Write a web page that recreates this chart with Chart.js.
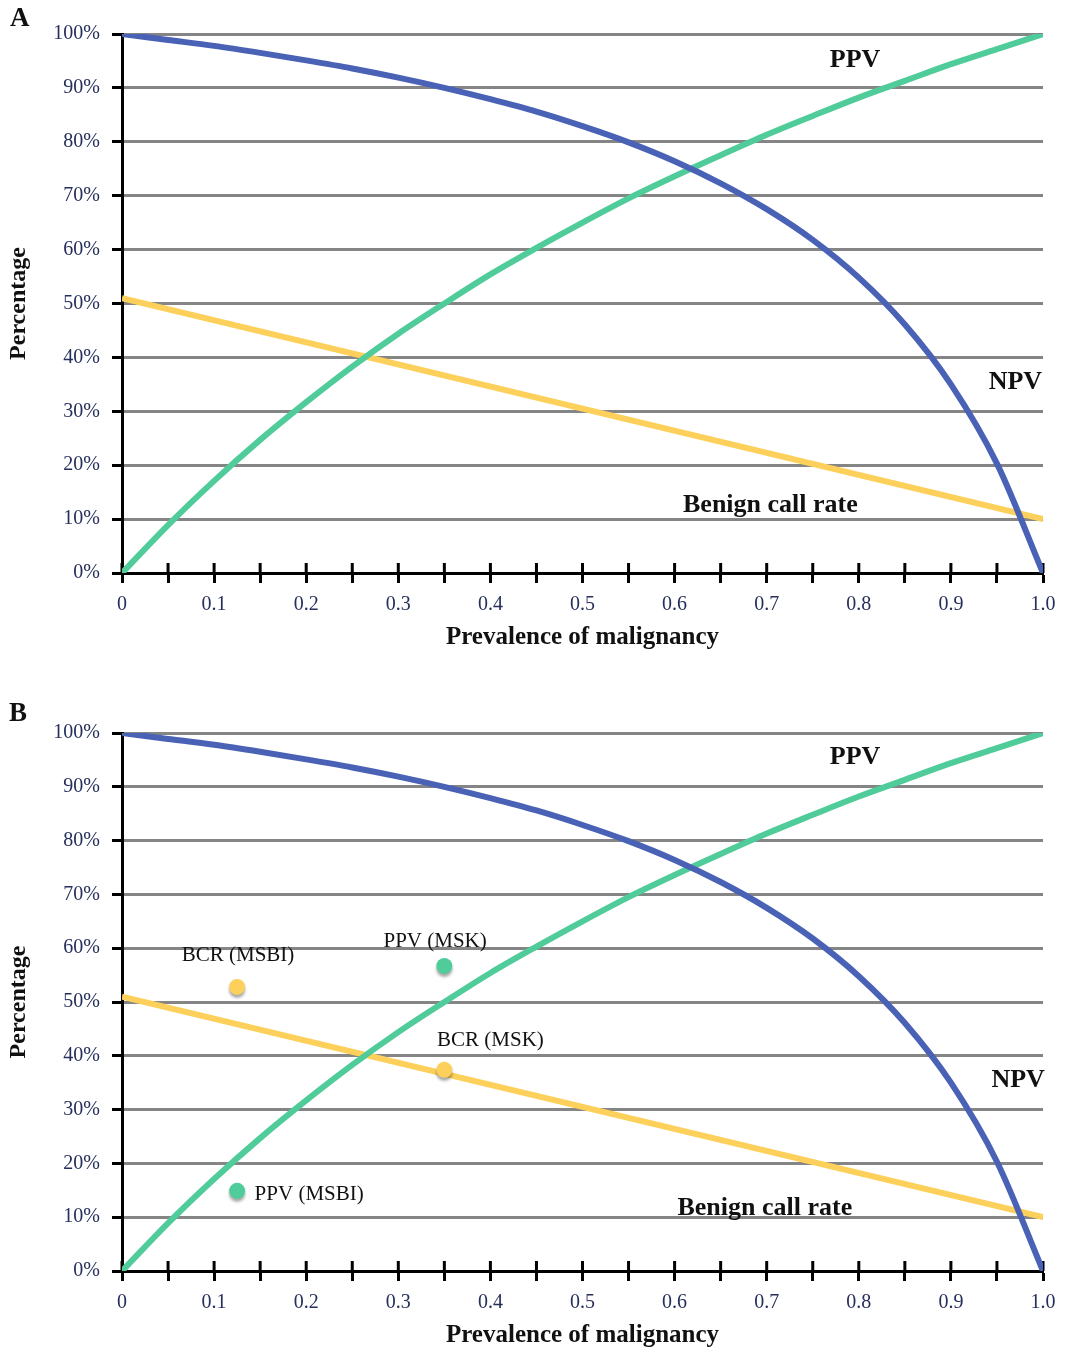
<!DOCTYPE html>
<html>
<head>
<meta charset="utf-8">
<script src="https://cdn.jsdelivr.net/npm/chart.js@4.4.1/dist/chart.umd.min.js"></script>
<style>
    body { margin: 0; background: #fff; overflow: hidden; }
    .panel { position: absolute; left: 0; width: 1069px; height: 655px; }
    .letter { position: absolute; font-family: "Liberation Serif", serif; font-weight: bold; font-size: 27px; line-height: 27px; color: #111; }
</style>
</head>
<body>
<div class="panel" style="top:0">
    <canvas id="chart-a" width="1069" height="655"></canvas>
    <div class="letter" style="left:10px;top:4px">A</div>
</div>
<div class="panel" style="top:698px">
    <canvas id="chart-b" width="1069" height="655"></canvas>
    <div class="letter" style="left:9px;top:1px">B</div>
</div>
<script>
// prevalence of malignancy (x) and the curves (%)
const prevalence = [0, 0.05, 0.1, 0.15, 0.2, 0.25, 0.3, 0.35, 0.4, 0.45, 0.5,
    0.55, 0.6, 0.65, 0.7, 0.75, 0.8, 0.85, 0.9, 0.95, 1.0];
const npvValues = [100, 98.9, 97.8, 96.5, 95.1, 93.6, 91.9, 90, 87.9, 85.6, 82.9,
    79.9, 76.4, 72.3, 67.5, 61.8, 54.8, 46.1, 35, 20.3, 0];
const ppvValues = [0, 8.9, 17.1, 24.7, 31.7, 38.3, 44.4, 50, 55.4, 60.3, 65,
    69.5, 73.6, 77.5, 81.3, 84.8, 88.2, 91.3, 94.4, 97.2, 100];
const bcrPrevalence = [0, 1.0];
const bcrValues = [51, 10];

// observed sites (panel B)
const bcrSiteX = [0.125, 0.35];
const bcrSiteY = [52.8, 37.4];
const ppvSiteX = [0.125, 0.35];
const ppvSiteY = [14.9, 56.7];

const yTicks = [0, 10, 20, 30, 40, 50, 60, 70, 80, 90, 100];

const blue = "#4a62b6";
const green = "#50cb9a";
const yellow = "#fcd05a";
const serif = "'Liberation Serif', 'Times New Roman', serif";
const tickTextColor = "#262f5c";

const toPoints = (xs, ys) => xs.map((x, i) => ({ x: x, y: ys[i] }));

// upper half of the x tick marks (chart.js only draws them below the axis)
const tickMarks = {
    id: "tickMarks",
    beforeDatasetsDraw(chart) {
        const { ctx, chartArea } = chart;
        const x = chart.scales.x;
        ctx.save();
        ctx.strokeStyle = "#000";
        ctx.lineWidth = 3;
        x.ticks.forEach((t) => {
            const px = x.getPixelForValue(t.value);
            ctx.beginPath();
            ctx.moveTo(px, chartArea.bottom - 10);
            ctx.lineTo(px, chartArea.bottom);
            ctx.stroke();
        });
        ctx.restore();
    }
};

// soft drop shadow under the site markers
const markerShadow = {
    id: "markerShadow",
    beforeDatasetDraw(chart, args) {
        if (!args.meta._dataset.shadow) return;
        const ctx = chart.ctx;
        ctx.save();
        ctx.shadowColor = "rgba(0,0,0,0.35)";
        ctx.shadowOffsetY = 3;
        ctx.shadowBlur = 3;
    },
    afterDatasetDraw(chart, args) {
        if (!args.meta._dataset.shadow) return;
        chart.ctx.restore();
    }
};

const notes = {
    id: "notes",
    afterDatasetsDraw(chart, args, opts) {
        const { ctx } = chart;
        const x = chart.scales.x;
        const y = chart.scales.y;
        ctx.save();
        ctx.textBaseline = "middle";
        (opts.items || []).forEach((n) => {
            ctx.font = (n.bold ? "bold " : "") + n.size + "px " + serif;
            ctx.fillStyle = "#111";
            ctx.textAlign = n.align || "center";
            ctx.fillText(n.text, x.getPixelForValue(n.x), y.getPixelForValue(n.y));
        });
        ctx.restore();
    }
};

const buildPanel = (canvasId, topPad, withSites, noteItems) => {
    const datasets = [
        {
            label: "NPV",
            data: toPoints(prevalence, npvValues),
            borderColor: blue,
            borderWidth: 6,
            pointRadius: 0,
            cubicInterpolationMode: "monotone",
            order: 1
        },
        {
            label: "PPV",
            data: toPoints(prevalence, ppvValues),
            borderColor: green,
            borderWidth: 6,
            pointRadius: 0,
            cubicInterpolationMode: "monotone",
            order: 2
        },
        {
            label: "Benign call rate",
            data: toPoints(bcrPrevalence, bcrValues),
            borderColor: yellow,
            borderWidth: 6,
            pointRadius: 0,
            order: 3
        }
    ];
    if (withSites) {
        datasets.push({
            label: "BCR sites",
            data: toPoints(bcrSiteX, bcrSiteY),
            showLine: false,
            pointRadius: 8,
            pointBackgroundColor: yellow,
            pointBorderWidth: 0,
            shadow: true,
            order: 0
        });
        datasets.push({
            label: "PPV sites",
            data: toPoints(ppvSiteX, ppvSiteY),
            showLine: false,
            pointRadius: 8,
            pointBackgroundColor: green,
            pointBorderWidth: 0,
            shadow: true,
            order: 0
        });
    }

    return new Chart(document.getElementById(canvasId), {
        type: "line",
        data: { datasets: datasets },
        options: {
            responsive: false,
            animation: false,
            devicePixelRatio: 1,
            layout: { padding: { top: topPad, right: 26, left: 0, bottom: 0 } },
            plugins: {
                legend: { display: false },
                tooltip: { enabled: false },
                notes: { items: noteItems }
            },
            scales: {
                x: {
                    type: "linear",
                    min: 0,
                    max: 1,
                    afterFit: (s) => { s.height = 82; },
                    border: { color: "#000", width: 3 },
                    grid: { drawOnChartArea: false, tickLength: 10, tickColor: "#000", tickWidth: 3 },
                    ticks: {
                        stepSize: 0.05,
                        autoSkip: false,
                        maxRotation: 0,
                        padding: 10,
                        color: tickTextColor,
                        font: { family: serif, size: 20 },
                        callback: (v) => {
                            const h = Math.round(v * 100);
                            if (h % 10) return "";
                            return h === 0 ? "0" : (h / 100).toFixed(1);
                        }
                    },
                    title: {
                        display: true,
                        text: "Prevalence of malignancy",
                        color: "#111",
                        font: { family: serif, size: 25, weight: "bold" },
                        padding: { top: 0, bottom: 2 }
                    }
                },
                y: {
                    min: yTicks[0],
                    max: yTicks[yTicks.length - 1],
                    afterFit: (s) => { s.width = 122; },
                    border: { color: "#000", width: 3 },
                    grid: {
                        color: (c) => (c.tick && c.tick.value === 0 ? "#000" : "#858585"),
                        lineWidth: 3,
                        tickLength: 10,
                        tickColor: "#000",
                        tickWidth: 3
                    },
                    ticks: {
                        stepSize: 10,
                        padding: 12,
                        color: tickTextColor,
                        font: { family: serif, size: 20 },
                        callback: (v) => v + "%"
                    },
                    title: {
                        display: true,
                        text: "Percentage",
                        color: "#111",
                        font: { family: serif, size: 24, weight: "bold" },
                        padding: { top: 4, bottom: 0 }
                    }
                }
            }
        },
        plugins: [tickMarks, markerShadow, notes]
    });
};

buildPanel("chart-a", 34, false, [
    { text: "PPV", x: 0.796, y: 95.2, size: 26, bold: true },
    { text: "NPV", x: 0.97, y: 35.3, size: 26, bold: true },
    { text: "Benign call rate", x: 0.704, y: 12.6, size: 26, bold: true }
]);

buildPanel("chart-b", 35, true, [
    { text: "PPV", x: 0.796, y: 95.5, size: 26, bold: true },
    { text: "NPV", x: 0.973, y: 35.5, size: 26, bold: true },
    { text: "Benign call rate", x: 0.698, y: 11.7, size: 26, bold: true },
    { text: "BCR (MSBI)", x: 0.126, y: 58.6, size: 21 },
    { text: "PPV (MSK)", x: 0.34, y: 61.3, size: 21 },
    { text: "BCR (MSK)", x: 0.4, y: 42.8, size: 21 },
    { text: "PPV (MSBI)", x: 0.144, y: 14.3, size: 21, align: "left" }
]);
</script>
</body>
</html>
